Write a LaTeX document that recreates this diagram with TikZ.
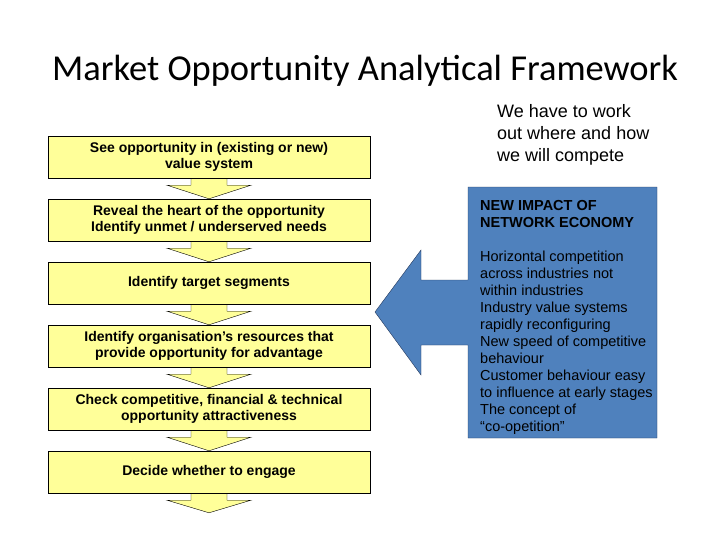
\documentclass[tikz,border=0pt]{standalone}
\usepackage{fontspec}
\setmainfont{Liberation Sans}
\newfontfamily\titlefont{Carlito}
\usetikzlibrary{calc, backgrounds}
\definecolor{stepyellow}{RGB}{255,255,153}
\definecolor{impactblue}{RGB}{79,129,189}
\definecolor{impactline}{RGB}{35,55,90}

\begin{document}
\begin{tikzpicture}[x=1pt, y=-1pt,
        stepbox/.style={draw=black, fill=stepyellow, minimum width=322pt, minimum height=42pt,
            inner sep=0pt, align=center, font=\fontsize{14}{16.5}\selectfont\bfseries},
        downarrow/.style={draw=black, fill=stepyellow}]
            \useasboundingbox (0,0) rectangle (728,546);
            \node[anchor=base west, inner sep=0pt, font=\titlefont\fontsize{36.5}{42}\selectfont] (title) at (52,80) {Market Opportunity Analytical Framework};
            \node[stepbox] (b1) at (209,157) {See opportunity in (existing or new)\\value system};
            \node[stepbox] (b2) at (209,220) {Reveal the heart of the opportunity\\Identify unmet / underserved needs};
            \node[stepbox] (b3) at (209,283) {Identify target segments};
            \node[stepbox] (b4) at (209,346) {Identify organisation’s resources that\\provide opportunity for advantage};
            \node[stepbox] (b5) at (209,409) {Check competitive, financial \& technical\\opportunity attractiveness};
            \node[stepbox] (b6) at (209,472) {Decide whether to engage};
            \node[inner sep=0pt, minimum size=0pt] (end) at (209,513) {};
            \begin{scope}[on background layer]
                \foreach \a/\b in {b1/b2, b2/b3, b3/b4, b4/b5, b5/b6, b6/end}
                    \draw[downarrow] ($(\a.south)+(-18,-1)$) -- ++(0,8) -- ++(-24,0) -- (\b.north)
                        -- ($(\a.south)+(42,7)$) -- ++(-24,0) -- ++(0,-8);
            \end{scope}
            \draw[impactline, fill=impactblue] (468,187) -- (657,187) -- (657,438) -- (468,438) -- (468,345)
                -- (421,345) -- (421,375) -- (375,312) -- (421,250) -- (421,280) -- (468,280) -- cycle;
            \node[anchor=north west, align=left, inner sep=0pt, font=\fontsize{14.5}{17}\selectfont] (impact) at (480,200)
                {\textbf{NEW IMPACT OF}\\\textbf{NETWORK ECONOMY}\\[17pt]Horizontal competition\\across industries not\\within industries\\Industry value systems\\rapidly reconfiguring\\New speed of competitive\\behaviour\\Customer behaviour easy\\to influence at early stages\\The concept of\\“co-opetition”};
            \node[anchor=north west, align=left, inner sep=0pt, font=\fontsize{18}{22}\selectfont] (work) at (497,104)
                {We have to work\\out where and how\\we will compete};
        \end{tikzpicture}
\end{document}
